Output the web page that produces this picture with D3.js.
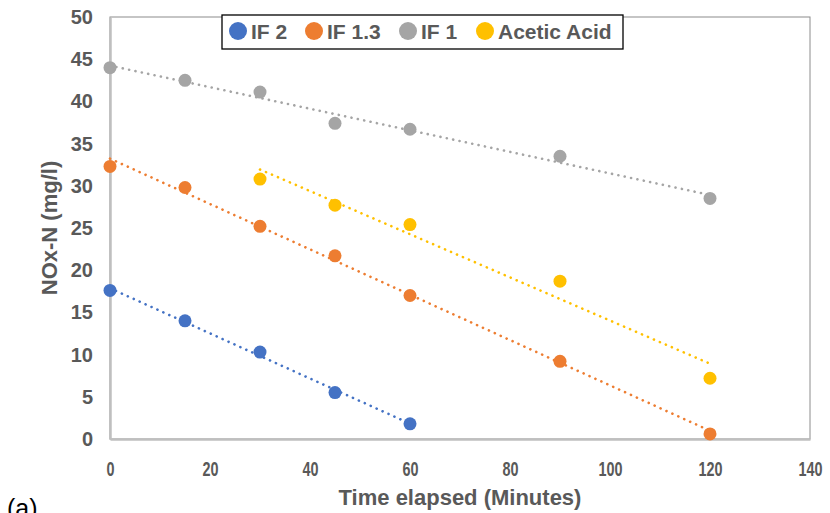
<!DOCTYPE html>
<html>
<head>
<meta charset="utf-8">
<script src="https://cdn.jsdelivr.net/npm/d3@7"></script>
<style>
  body { margin: 0; background: #fff; }
  text { font-family: "Liberation Sans", Arial, sans-serif; }
</style>
</head>
<body>
<svg id="chart" width="830" height="513"></svg>
<script>
// data
const seriesNames = ['IF 2', 'IF 1.3', 'IF 1', 'Acetic Acid'];
const seriesColors = ['#4472c4', '#ed7d31', '#a5a5a5', '#ffc000'];
const if2X = [0, 15, 30, 45, 60];
const if2Y = [17.6, 14.0, 10.3, 5.5, 1.8];
const if13X = [0, 15, 30, 45, 60, 90, 120];
const if13Y = [32.3, 29.8, 25.2, 21.7, 17.0, 9.2, 0.6];
const if1X = [0, 15, 30, 45, 60, 90, 120];
const if1Y = [44.0, 42.5, 41.1, 37.4, 36.7, 33.5, 28.5];
const aceticX = [30, 45, 60, 90, 120];
const aceticY = [30.8, 27.7, 25.4, 18.7, 7.2];
const xTicks = [0, 20, 40, 60, 80, 100, 120, 140];
const yTicks = [0, 5, 10, 15, 20, 25, 30, 35, 40, 45, 50];

const series = [
  { name: seriesNames[0], color: seriesColors[0], xs: if2X, ys: if2Y },
  { name: seriesNames[1], color: seriesColors[1], xs: if13X, ys: if13Y },
  { name: seriesNames[2], color: seriesColors[2], xs: if1X, ys: if1Y },
  { name: seriesNames[3], color: seriesColors[3], xs: aceticX, ys: aceticY }
];

const svg = d3.select('#chart');
const plotLeft = 110, plotRight = 810, plotTop = 17, plotBottom = 439;

const x = d3.scaleLinear().domain([0, 140]).range([plotLeft, plotRight]);
const y = d3.scaleLinear().domain([0, 50]).range([plotBottom, plotTop]);

// plot frame
svg.append('rect')
  .attr('x', plotLeft).attr('y', plotTop)
  .attr('width', plotRight - plotLeft).attr('height', plotBottom - plotTop)
  .attr('fill', 'none').attr('stroke', '#8c8c8c').attr('stroke-width', 1);

// axes
const xAxis = svg.append('g')
  .attr('transform', `translate(0,${plotBottom})`)
  .call(d3.axisBottom(x).tickValues(xTicks).tickSize(0).tickPadding(23));
const yAxis = svg.append('g')
  .attr('transform', `translate(${plotLeft},0)`)
  .call(d3.axisLeft(y).tickValues(yTicks).tickSize(0).tickPadding(17));
[xAxis, yAxis].forEach(a => {
  a.select('.domain').attr('stroke', '#bfbfbf').attr('stroke-width', 2.5);
  a.selectAll('text')
    .attr('fill', '#595959')
    .style('font-size', '20px')
    .style('font-weight', 'bold')
    .style('font-family', '"Liberation Sans", Arial, sans-serif');
});
// x tick labels are narrow in the source picture
xAxis.selectAll('text').attr('transform', 'scale(0.72,1)');

// linear trendlines
function fit(xs, ys) {
  const mx = d3.mean(xs), my = d3.mean(ys);
  let sxy = 0, sxx = 0;
  xs.forEach((v, i) => { sxy += (v - mx) * (ys[i] - my); sxx += (v - mx) * (v - mx); });
  const b = sxy / sxx;
  return t => my + b * (t - mx);
}

series.forEach(s => {
  const f = fit(s.xs, s.ys);
  const x0 = d3.min(s.xs), x1 = d3.max(s.xs);
  svg.append('line')
    .attr('x1', x(x0)).attr('y1', y(f(x0)))
    .attr('x2', x(x1)).attr('y2', y(f(x1)))
    .attr('stroke', s.color)
    .attr('stroke-width', 2.6)
    .attr('stroke-linecap', 'round')
    .attr('stroke-dasharray', '0.1 6.4');
});

// markers
series.forEach(s => {
  svg.append('g').selectAll('circle')
    .data(s.xs.map((v, i) => [v, s.ys[i]]))
    .join('circle')
    .attr('cx', d => x(d[0]))
    .attr('cy', d => y(d[1]))
    .attr('r', 6.5)
    .attr('fill', s.color);
});

// legend
const legend = svg.append('g');
legend.append('rect')
  .attr('x', 222).attr('y', 15).attr('width', 401).attr('height', 34)
  .attr('fill', '#fff').attr('stroke', '#000').attr('stroke-width', 1.3);
const legendX = [238, 314, 408, 485];
series.forEach((s, i) => {
  legend.append('circle')
    .attr('cx', legendX[i]).attr('cy', 31).attr('r', 9).attr('fill', s.color);
  legend.append('text')
    .attr('x', legendX[i] + 13).attr('y', 38.5)
    .attr('fill', '#595959')
    .style('font-size', '21px').style('font-weight', 'bold')
    .text(s.name);
});

// axis titles
svg.append('text')
  .attr('x', 460).attr('y', 505)
  .attr('text-anchor', 'middle')
  .attr('fill', '#595959')
  .style('font-size', '22px').style('font-weight', 'bold')
  .text('Time elapsed (Minutes)');
svg.append('text')
  .attr('transform', 'translate(57,228) rotate(-90)')
  .attr('text-anchor', 'middle')
  .attr('fill', '#595959')
  .style('font-size', '22px').style('font-weight', 'bold')
  .text('NOx-N (mg/l)');

svg.append('text')
  .attr('x', 7).attr('y', 517)
  .attr('fill', '#000')
  .style('font-size', '25px')
  .text('(a)');
</script>
</body>
</html>
